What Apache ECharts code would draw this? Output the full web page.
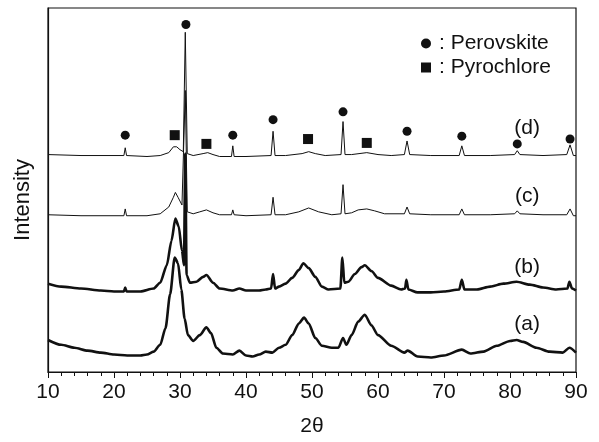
<!DOCTYPE html>
<html>
<head>
<meta charset="utf-8">
<script src="https://cdn.jsdelivr.net/npm/echarts@6/dist/echarts.min.js"></script>
<style>
  html, body { margin: 0; padding: 0; background: #fff; }
  #chart { width: 599px; height: 442px; }
</style>
</head>
<body>
<div id="chart"></div>
<script>
// offset XRD patterns, [2theta, intensity (a.u., stacked)]
const traceD = [[10,224],[15,223],[20,223],[21.5,223],[21.7,231],[21.9,223],[25,222],[27,223],[28.3,226],[29,232],[29.5,232],[30,229],[30.5,227],[30.8,350],[31.1,225],[32,223],[33.5,225],[34.2,226],[35,224],[36,222],[37.8,222],[38.0,233],[38.2,222],[40,222],[43.8,223],[44.1,248],[44.4,223],[46,223],[48.5,225],[49.5,227],[50.5,225],[52,223],[54.4,224],[54.7,258],[55,224],[56,224],[58.3,226],[60,224],[62,223],[64.0,224],[64.4,238],[64.8,224],[68,223],[72.3,223],[72.7,233],[73.1,223],[77,223],[80.7,224],[81.1,228],[81.5,224],[85,223],[88.6,224],[89.1,234],[89.6,223],[90,223]];
const traceC = [[10,162],[15,161],[20,161],[21.5,161],[21.7,168],[21.9,161],[25,161],[27,163],[28.3,170],[29,180],[29.3,185],[29.7,180],[30.3,172],[30.8,290],[31.1,165],[32,163],[33,165],[34,167],[35,164],[36,162],[37.8,162],[38,167],[38.2,162],[40,161],[43.8,162],[44.1,180],[44.4,162],[46,162],[48,165],[49.5,169],[51,165],[53,162],[54.4,163],[54.7,193],[55,163],[56,164],[57,167],[58.3,168],[59.5,166],[61,163],[64.0,163],[64.4,170],[64.8,163],[68,162],[72.3,162],[72.7,168],[73.1,162],[77,162],[80.7,163],[81.1,166],[81.5,163],[85,162],[88.6,162],[89.1,168],[89.6,161],[90,161]];
const traceB = [[10,91],[12,88],[15,86],[18,84],[20,83],[21.5,83],[21.7,87],[21.9,83],[24,83],[26,86],[27,92],[28,110],[28.7,135],[29.3,158],[29.8,150],[30.3,125],[30.6,110],[30.8,225],[31.0,100],[31.5,92],[32.5,93],[33.5,98],[34,100],[35,92],[36,86],[38,84],[39,86],[40,84],[42,84],[43,85],[43.8,86],[44.1,101],[44.4,86],[45,88],[46,91],[47,97],[48,105],[48.7,112],[49.5,107],[50.5,98],[51.5,88],[52.5,85],[54.3,86],[54.6,118],[54.9,92],[55.5,93],[56.5,101],[57.5,108],[58,110],[59,104],[60,97],[62,89],[63.5,85],[64.1,86],[64.3,95],[64.6,85],[66,82],[68,82],[70,83],[72.3,85],[72.7,95],[73.1,85],[75,85],[77,88],[79,91],[81,93],[83,90],[85,87],[87,85],[88.7,86],[89,93],[89.4,86],[90,84]];
const traceA = [[10,33],[12,28],[14,25],[16,22],[18,20],[20,18],[22,17],[24,17],[25,18],[26,21],[27,28],[27.8,45],[28.5,80],[29.2,118],[29.7,112],[30.2,85],[30.7,55],[31.2,38],[32,32],[33,38],[34,46],[34.7,40],[35.5,25],[36.5,19],[38,18],[39,22],[40,17],[41,16],[42,18],[43,21],[44,20],[45,25],[46,28],[47,38],[48,50],[48.8,56],[49.5,50],[50.5,35],[51.5,27],[53,25],[54,25],[54.7,35],[55.2,28],[56,38],[57,52],[58,59],[59,48],[60,38],[62,27],[64,20],[64.5,22],[66,16],[68,15],[70,17],[72.7,23],[74,19],[76,21],[78,27],[80,32],[81,33],[82,31],[84,25],[86,21],[88,20],[89,25],[90,20]];

const perovskitePeaks = [[21.7,244],[30.9,358],[38.0,244],[44.1,260],[54.7,268],[64.4,248],[72.7,243],[81.1,235],[89.1,240]];
const pyrochlorePeaks = [[29.2,244],[34.0,235],[49.4,240],[58.3,236]];

const sampleNames = ['(a)', '(b)', '(c)', '(d)'];
const sampleLabelPos = [[82.6,49],[82.6,108],[82.6,181],[82.6,251]];

const font = 'Liberation Sans, Arial, sans-serif';
const ink = '#111';

let chart = echarts.init(document.getElementById('chart'), null, {renderer: 'canvas'});

let lineSeries = [traceA, traceB, traceC, traceD].map((d, i) => ({
  type: 'line',
  data: d,
  symbol: 'none',
  silent: true,
  smooth: i < 2 ? 0.25 : false,
  smoothMonotone: 'x',
  lineStyle: {color: ink, width: i < 2 ? 2.6 : 1}
}));

chart.setOption({
  animation: false,
  backgroundColor: '#fff',
  grid: {left: 48, right: 23, top: 8, bottom: 59, show: true, borderColor: ink, borderWidth: 1.2},
  legend: {
    left: 416, top: 28, orient: 'vertical',
    itemWidth: 10, itemHeight: 10, itemGap: 3,
    textStyle: {fontFamily: font, fontSize: 21, color: ink, padding: [0, 0, 0, 3]},
    data: [': Perovskite', ': Pyrochlore']
  },
  xAxis: {
    type: 'value', min: 10, max: 90, interval: 10,
    name: '2θ', nameLocation: 'middle', nameGap: 44,
    nameTextStyle: {fontFamily: font, fontSize: 21, color: ink},
    axisLine: {lineStyle: {color: ink, width: 1.2}},
    axisTick: {length: 6, lineStyle: {color: ink}},
    minorTick: {show: true, splitNumber: 5, length: 4, lineStyle: {color: ink}},
    axisLabel: {fontFamily: font, fontSize: 21, color: ink, margin: 10},
    splitLine: {show: false}
  },
  yAxis: {
    type: 'value', min: 0, max: 375,
    name: 'Intensity', nameLocation: 'middle', nameGap: 14,
    nameTextStyle: {fontFamily: font, fontSize: 22, color: ink, padding: [0, 0, 0, -20]},
    axisLine: {show: true, lineStyle: {color: ink, width: 1.2}},
    axisTick: {show: false},
    axisLabel: {show: false},
    splitLine: {show: false}
  },
  series: [
    ...lineSeries,
    {
      name: ': Perovskite', type: 'scatter', symbol: 'circle', symbolSize: 9,
      itemStyle: {color: ink, opacity: 1}, data: perovskitePeaks, z: 5
    },
    {
      name: ': Pyrochlore', type: 'scatter', symbol: 'rect', symbolSize: 10,
      itemStyle: {color: ink, opacity: 1}, data: pyrochlorePeaks, z: 5
    },
    {
      type: 'scatter', symbolSize: 1, silent: true,
      itemStyle: {color: 'rgba(0,0,0,0)', opacity: 1},
      data: sampleLabelPos.map((p, i) => ({value: p, name: sampleNames[i]})),
      label: {show: true, position: 'inside', formatter: '{b}', fontFamily: font, fontSize: 21, color: ink, opacity: 1}
    }
  ]
});
</script>
</body>
</html>
